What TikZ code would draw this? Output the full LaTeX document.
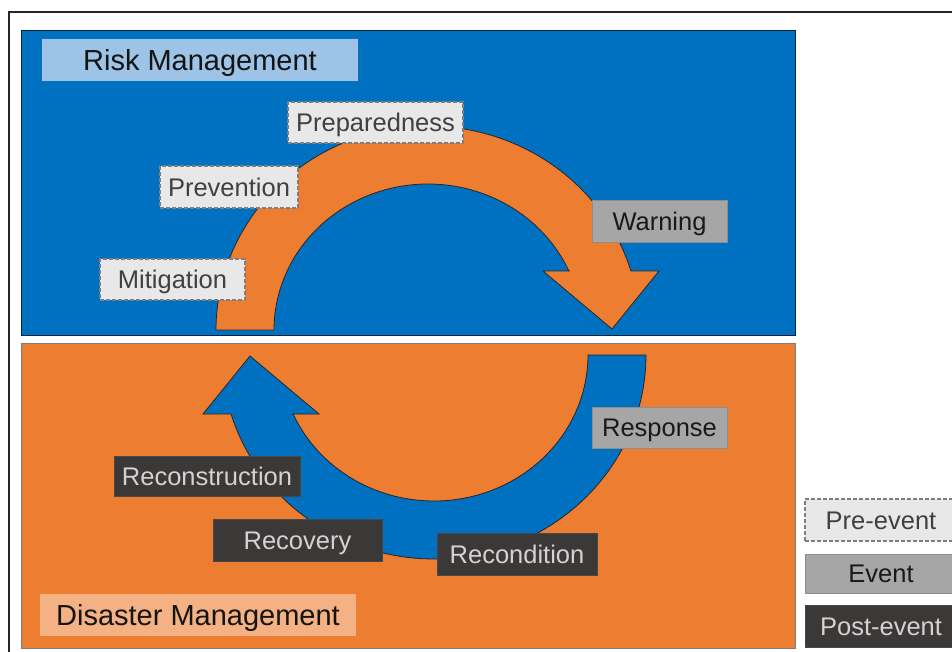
\documentclass[tikz,border=0pt]{standalone}
\usepackage{fontspec}
\setmainfont{Liberation Sans}
\definecolor{mblue}{HTML}{0070C0}
\definecolor{morange}{HTML}{ED7D31}
\definecolor{tblue}{HTML}{9DC3E6}
\definecolor{torange}{HTML}{F4B183}
\definecolor{prefill}{HTML}{E9E8E8}
\definecolor{pretext}{HTML}{404040}
\definecolor{evfill}{HTML}{A6A6A6}
\definecolor{postfill}{HTML}{3B3838}
\definecolor{posttext}{HTML}{D4D2D2}
\definecolor{edgegray}{HTML}{7F7F7F}
\tikzset{
  lab/.style={rectangle, inner sep=0pt, font=\fontsize{25.5}{30}\selectfont, text height=18.2pt, text depth=0pt},
  prebox/.style={lab, fill=prefill, draw=edgegray, line width=1.4pt, dash pattern=on 4pt off 2pt, text=pretext},
  evbox/.style={lab, fill=evfill, draw=evfill!85!black, line width=0.6pt, text=black!90},
  postbox/.style={lab, fill=postfill, draw=postfill!80!gray, line width=0.6pt, text=posttext},
  titlebox/.style={rectangle, inner sep=0pt, font=\fontsize{29}{34}\selectfont, text height=20.8pt, text depth=0pt, text=black!92},
  panel/.style={rectangle, inner sep=0pt, line width=0.8pt},
  arrowband/.style={line width=0.8pt, draw=black!85}
}
\begin{document}
\begin{tikzpicture}[x=1pt,y=-1pt]
\useasboundingbox (0,0) rectangle (952,651);
\clip (0,0) rectangle (952,651);
\fill[white] (0,0) rectangle (952,651);
% outer frame
\draw[line width=1.3pt, black!85] (9,12) rectangle (970,670);
% panels
\node[panel, fill=mblue, draw=black!70!mblue, minimum width=774pt, minimum height=305pt] (riskpanel) at (408,182.5) {};
\node[panel, fill=morange, draw=edgegray, minimum width=774pt, minimum height=305pt] (dispanel) at (408,495.5) {};
% titles
\node[titlebox, fill=tblue, minimum width=316pt, minimum height=42pt] (risk) at (200,60) {Risk Management};
\node[titlebox, fill=torange, minimum width=316pt, minimum height=42pt] (disaster) at (198,615) {Disaster Management};
% orange arrow
\draw[arrowband, fill=morange] (216,330)
  -- plot[domain=180:16.8, samples=90] ({428+212*cos(\x)},{330-204*sin(\x)})
  -- (659,271) -- (612,329) -- (543,271) -- (569,271)
  -- plot[domain=23.8:180, samples=90] ({428+154*cos(\x)},{330-146*sin(\x)})
  -- cycle;
% blue arrow
\draw[arrowband, fill=mblue] (646,355)
  -- plot[domain=180:16.8, samples=90] ({434-212*cos(\x)},{355+204*sin(\x)})
  -- (203,414) -- (250,356) -- (319,414) -- (293,414)
  -- plot[domain=23.8:180, samples=90] ({434-154*cos(\x)},{355+146*sin(\x)})
  -- cycle;
% pre-event labels
\node[prebox, minimum width=175pt, minimum height=41pt] (prep) at (375.5,122.5) {Preparedness};
\node[prebox, minimum width=138pt, minimum height=42pt] (prev) at (229,187) {Prevention};
\node[prebox, minimum width=145pt, minimum height=41pt] (miti) at (172.5,279.5) {Mitigation};
% event labels
\node[evbox, minimum width=135pt, minimum height=42pt] (warn) at (659.5,221) {Warning};
\node[evbox, minimum width=135pt, minimum height=41pt] (resp) at (659.5,427.5) {Response};
% post-event labels
\node[postbox, minimum width=186pt, minimum height=40pt] (recon) at (207,476) {Reconstruction};
\node[postbox, minimum width=169pt, minimum height=42pt] (recov) at (297.5,540) {Recovery};
\node[postbox, minimum width=160pt, minimum height=42pt] (recond) at (517,554) {Recondition};
% legend
\node[prebox, minimum width=152pt, minimum height=42pt] (lpre) at (881,520) {Pre-event};
\node[evbox, minimum width=152pt, minimum height=39pt] (levent) at (881,573.5) {Event};
\node[postbox, minimum width=152pt, minimum height=42pt] (lpost) at (881,626) {Post-event};
\end{tikzpicture}
\end{document}
